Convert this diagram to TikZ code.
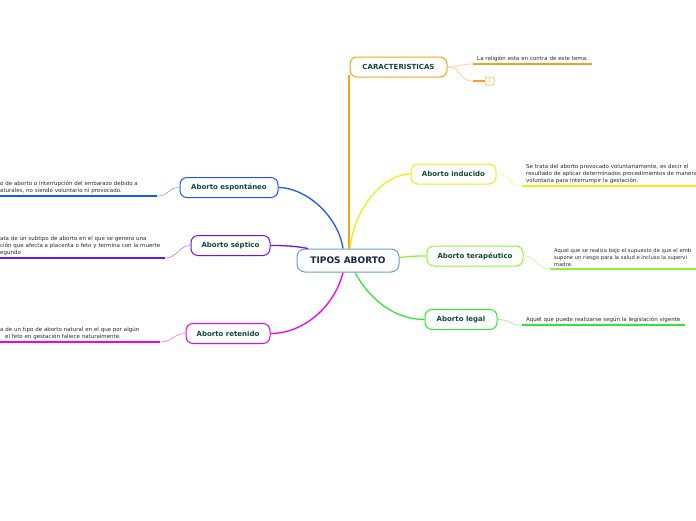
\documentclass[tikz,border=0pt]{standalone}
\usepackage{fontspec}
\setmainfont{DejaVu Sans}
\usetikzlibrary{positioning}
\usepackage{xcolor}
\definecolor{mmtext}{RGB}{16,74,58}
\definecolor{mmnavy}{RGB}{22,40,72}
\definecolor{mmcentral}{RGB}{100,160,215}
\definecolor{mmorange}{RGB}{247,160,30}
\definecolor{mmyellow}{RGB}{238,238,20}
\definecolor{mmlime}{RGB}{150,240,50}
\definecolor{mmgreen}{RGB}{50,230,50}
\definecolor{mmblue}{RGB}{30,85,255}
\definecolor{mmpurple}{RGB}{110,20,240}
\definecolor{mmmagenta}{RGB}{240,0,240}
\definecolor{mmgray}{RGB}{40,40,40}

\begin{document}
\begin{tikzpicture}[x=1pt,y=-1pt,
  central/.style={draw=mmcentral,fill=white,rounded corners=8pt,line width=1pt,minimum width=102pt,
                  minimum height=23pt,font=\fontsize{9}{10}\selectfont\bfseries,text=mmnavy,inner sep=0pt},
  topic/.style={draw=#1,fill=white,rounded corners=7pt,line width=1pt,minimum height=20pt,
                font=\fontsize{7}{8}\selectfont\bfseries,text=mmtext,inner sep=0pt},
  branch/.style={draw=#1,line width=1.3pt},
  twig/.style={draw=#1!55,line width=0.6pt},
  leaf/.style={font=\fontsize{5.5}{7}\selectfont,text=mmgray,align=left,inner xsep=4pt,inner ysep=1.8pt,
               anchor=south west},
  uline/.style={draw=#1,line width=1.8pt}
]
  \clip (0,0) rectangle (696,520);

  \node[central] (sys) at (348,260.5) {TIPOS ABORTO};

  % Main topics -- right side
  \node[topic=mmorange,minimum width=97pt] (cara) at (398.5,67)  {CARACTERISTICAS};
  \node[topic=mmyellow,minimum width=85pt] (ind)  at (453.5,174) {Aborto inducido};
  \node[topic=mmlime,minimum width=96pt]   (ter)  at (475,256)   {Aborto terapéutico};
  \node[topic=mmgreen,minimum width=72pt]  (leg)  at (461,319.5) {Aborto legal};

  % Main topics -- left side
  \node[topic=mmblue,minimum width=98pt]    (esp) at (229,187.5) {Aborto espontáneo};
  \node[topic=mmpurple,minimum width=79pt]  (sep) at (230.5,245.5) {Aborto séptico};
  \node[topic=mmmagenta,minimum width=84pt] (ret) at (228,333.5) {Aborto retenido};

  % Branches from the central topic
  \draw[branch=mmorange] ([xshift=1pt]sys.north) -- ([xshift=1pt,yshift=3pt]sys.north |- cara.south);
  \draw[branch=mmyellow] ([xshift=2pt]sys.north) .. controls (355,205) and (385,174) .. (ind.west);
  \draw[branch=mmlime] ([yshift=3pt]sys.east) .. controls (412,256) and (418,256) .. (ter.west);
  \draw[branch=mmgreen] ([xshift=7pt]sys.south) .. controls (370,300) and (395,319.5) .. (leg.west);
  \draw[branch=mmblue] ([xshift=-5pt]sys.north) .. controls (338,215) and (305,187.5) .. (esp.east);
  \draw[branch=mmpurple] ([xshift=-40pt]sys.north) .. controls (295,246) and (285,245.5) .. (sep.east);
  \draw[branch=mmmagenta] ([xshift=-5pt]sys.south) .. controls (335,305) and (305,333.5) .. (ret.east);

  % Details -- CARACTERISTICAS
  \node[leaf,text width=111pt] (rel) at (473,64) {La religión esta en contra de este tema.};
  \draw[uline=mmorange] (rel.south west) -- (rel.south east);
  \draw[twig=mmorange] (cara.east) .. controls +(15,0) and +(-15,0) .. (rel.south west);
  \node[draw=mmorange,rounded corners=1.5pt,line width=0.5pt,font=\fontsize{4.5}{5}\selectfont,
        text=mmorange,minimum width=9pt,minimum height=8pt,inner sep=0pt] (one) at (489.5,81) {1};
  \coordinate (onel) at (473,81);
  \draw[uline=mmorange,line width=1.2pt] (onel) -- (one.west);
  \draw[twig=mmorange] (cara.east) .. controls +(15,0) and +(-15,0) .. (onel);

  % Details -- right side
  \node[leaf,text width=200pt] (indt) at (522,186)
    {Se trata del aborto provocado voluntariamente, es decir el\\
     resultado de aplicar determinados procedimientos de manera\\
     voluntaria para interrumpir la gestación.};
  \draw[uline=mmyellow] (indt.south west) -- (indt.south east);
  \draw[twig=mmyellow] (ind.east) .. controls +(15,0) and +(-15,0) .. (indt.south west);

  \node[leaf,text width=200pt,font=\fontsize{5.2}{7.2}\selectfont] (tert) at (550,269)
    {Aquel que se realiza bajo el supuesto de que el emb\\
     supone un riesgo para la salud e incluso la supervi\\
     madre.};
  \draw[uline=mmlime] (tert.south west) -- (tert.south east);
  \draw[twig=mmlime] (ter.east) .. controls +(15,0) and +(-15,0) .. (tert.south west);

  \node[leaf,text width=155pt] (legt) at (522,325)
    {Aquel que puede realizarse según la legislación vigente};
  \draw[uline=mmgreen] (legt.south west) -- (legt.south east);
  \draw[twig=mmgreen] (leg.east) .. controls +(15,0) and +(-15,0) .. (legt.south west);

  % Details -- left side
  \node[leaf,text width=153pt] (espt) at (-4,196)
    {o de aborto o interrupción del embarazo debido a\\
     aturales, no siendo voluntario ni provocado.};
  \draw[uline=mmblue] (espt.south west) -- (espt.south east);
  \draw[twig=mmblue] (esp.west) .. controls +(-12,0) and +(12,0) .. (espt.south east);

  \node[leaf,text width=161pt] (sept) at (-4,258)
    {ata de un subtipo de aborto en el que se genera una\\
     ción que afecta a placenta o feto y termina con la muerte\\
     egundo};
  \draw[uline=mmpurple] (sept.south west) -- (sept.south east);
  \draw[twig=mmpurple] (sep.west) .. controls +(-12,0) and +(12,0) .. (sept.south east);

  \node[leaf,text width=156pt] (rett) at (-4,342)
    {a de un tipo de aborto natural en el que por algún\\
     \hspace*{5pt}el feto en gestación fallece naturalmente.};
  \draw[uline=mmmagenta] (rett.south west) -- (rett.south east);
  \draw[twig=mmmagenta] (ret.west) .. controls +(-12,0) and +(12,0) .. (rett.south east);
\end{tikzpicture}
\end{document}
